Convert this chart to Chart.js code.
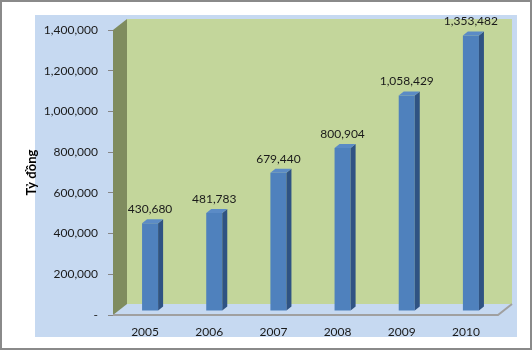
<!DOCTYPE html>
<html><head><meta charset="utf-8">
<script src="https://cdn.jsdelivr.net/npm/chart.js@4"></script>
<style>html,body{margin:0;padding:0;background:#fff}</style>
</head><body>
<canvas id="c" width="532" height="351"></canvas>
<script>
const categories = ['2005', '2006', '2007', '2008', '2009', '2010'];
const values = [430680, 481783, 679440, 800904, 1058429, 1353482];
const yTickValues = [0, 200000, 400000, 600000, 800000, 1000000, 1200000, 1400000];
const yTitle = 'Tỷ đồng';

const FONT = 'Lato, "Open Sans", sans-serif';
const WALL = { dx: 14, dy: -11 };
const BAR_SHIFT = { dx: 5, dy: -4 };
const BAR_DEPTH = { dx: 5, dy: -4 };
const fmt = v => v === 0 ? '-' : v.toLocaleString('en-US');

const threeD = {
  id: 'threeD',
  beforeDraw(chart) {
    const { ctx, chartArea: a, width, height } = chart;
    ctx.save();
    ctx.fillStyle = '#ffffff';
    ctx.fillRect(0, 0, width, height);
    // chart panel
    ctx.fillStyle = '#c6d9f1';
    ctx.fillRect(35, 15, 482, 322);
    // back wall
    ctx.fillStyle = '#c3d69b';
    ctx.fillRect(a.left + WALL.dx, a.top + WALL.dy, a.right - a.left, a.bottom - a.top);
    // left wall
    ctx.fillStyle = '#7f8c5f';
    ctx.beginPath();
    ctx.moveTo(a.left, a.top);
    ctx.lineTo(a.left + WALL.dx, a.top + WALL.dy);
    ctx.lineTo(a.left + WALL.dx, a.bottom + WALL.dy);
    ctx.lineTo(a.left, a.bottom);
    ctx.closePath();
    ctx.fill();
    // floor edges
    ctx.strokeStyle = '#a0a0a0';
    ctx.lineWidth = 2;
    ctx.beginPath();
    ctx.moveTo(a.left, a.bottom);
    ctx.lineTo(a.right, a.bottom);
    ctx.lineTo(a.right + WALL.dx, a.bottom + WALL.dy);
    ctx.stroke();
    // frame
    ctx.strokeStyle = '#8a8a8a';
    ctx.lineWidth = 2;
    ctx.strokeRect(1, 1, width - 2, height - 3);
    ctx.restore();
  },
  beforeDatasetsDraw(chart) {
    chart.ctx.save();
    chart.ctx.translate(BAR_SHIFT.dx, BAR_SHIFT.dy);
  },
  afterDatasetsDraw(chart) {
    const ctx = chart.ctx;
    const meta = chart.getDatasetMeta(0);
    meta.data.forEach(bar => {
      const { x, y, base, width } = bar.getProps(['x', 'y', 'base', 'width'], true);
      const l = x - width / 2, r = x + width / 2;
      ctx.fillStyle = '#2f5383';
      ctx.beginPath();
      ctx.moveTo(r, y); ctx.lineTo(r + BAR_DEPTH.dx, y + BAR_DEPTH.dy);
      ctx.lineTo(r + BAR_DEPTH.dx, base + BAR_DEPTH.dy); ctx.lineTo(r, base);
      ctx.closePath(); ctx.fill();
      ctx.fillStyle = '#5b8bc6';
      ctx.beginPath();
      ctx.moveTo(l, y); ctx.lineTo(l + BAR_DEPTH.dx, y + BAR_DEPTH.dy);
      ctx.lineTo(r + BAR_DEPTH.dx, y + BAR_DEPTH.dy); ctx.lineTo(r, y);
      ctx.closePath(); ctx.fill();
    });
    ctx.restore();
    ctx.save();
    ctx.fillStyle = '#1a1a1a';
    ctx.font = '12px ' + FONT;
    ctx.textAlign = 'center';
    ctx.textBaseline = 'middle';
    meta.data.forEach((bar, i) => {
      ctx.fillText(fmt(values[i]), bar.x + BAR_SHIFT.dx, bar.y + BAR_SHIFT.dy - 14);
    });
    ctx.restore();
  }
};

new Chart(document.getElementById('c'), {
  type: 'bar',
  data: {
    labels: categories,
    datasets: [{
      data: values,
      backgroundColor: '#4f81bd',
      borderWidth: 0,
      categoryPercentage: 1,
      barPercentage: 0.25,
      clip: false
    }]
  },
  options: {
    responsive: false,
    animation: false,
    devicePixelRatio: 1,
    layout: { padding: { top: 30, right: 34, left: 0, bottom: 0 } },
    plugins: { legend: { display: false }, tooltip: { enabled: false } },
    scales: {
      x: {
        grid: { display: false, drawTicks: false },
        border: { display: false },
        ticks: { padding: 10, color: '#1a1a1a', font: { family: FONT, size: 12 } },
        afterFit(s) { s.height = 36; }
      },
      y: {
        min: 0,
        max: 1400000,
        afterBuildTicks(s) { s.ticks = yTickValues.map(v => ({ value: v })); },
        ticks: { callback: v => fmt(v), padding: 10, color: '#1a1a1a', font: { family: FONT, size: 12 } },
        grid: { drawOnChartArea: false, tickLength: 5, color: '#868686', lineWidth: 1 },
        border: { display: false },
        title: { display: true, text: yTitle, color: '#000', font: { family: FONT, size: 13, weight: 'bold' }, padding: { top: 24, bottom: 0 } },
        afterFit(s) { s.width = 113; }
      }
    }
  },
  plugins: [threeD]
});
</script>
</body></html>
